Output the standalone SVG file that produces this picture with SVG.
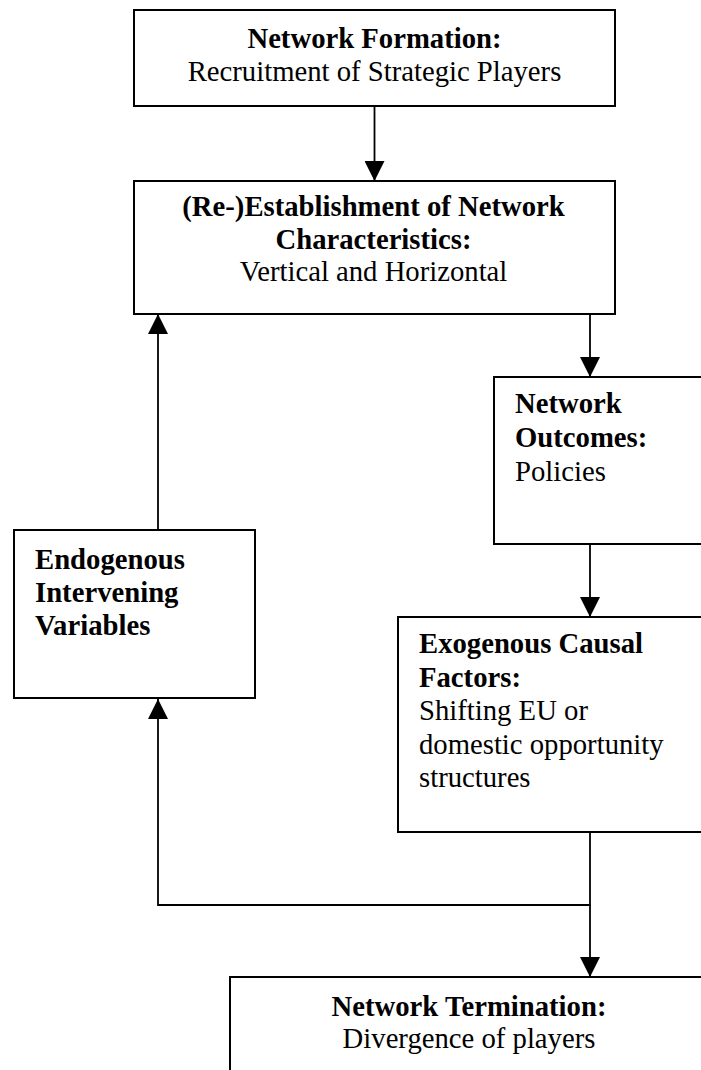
<svg xmlns="http://www.w3.org/2000/svg" width="701" height="1070" viewBox="0 0 701 1070">
<defs>
<marker id="ah" viewBox="0 0 20 20" refX="20" refY="10" markerWidth="20" markerHeight="20" markerUnits="userSpaceOnUse" orient="auto">
<path d="M0,0 L20,10 L0,20 Z" fill="#000"/>
</marker>
<style>
.box{fill:#fff;stroke:#000;stroke-width:2}
.t{font-family:"Liberation Serif","Times New Roman",serif;font-size:28.7px;fill:#000}
.b{font-weight:bold}
.c{text-anchor:middle}
.ln{fill:none;stroke:#000;stroke-width:1.8}
</style>
</defs>
<rect width="701" height="1070" fill="#fff"/>
<g id="connectors">
<line class="ln" x1="374.5" y1="106" x2="374.5" y2="181" marker-end="url(#ah)"/>
<line class="ln" x1="590" y1="314" x2="590" y2="377" marker-end="url(#ah)"/>
<line class="ln" x1="590" y1="544" x2="590" y2="617" marker-end="url(#ah)"/>
<line class="ln" x1="158" y1="530" x2="158" y2="314" marker-end="url(#ah)"/>
<polyline class="ln" points="590,832 590,905 158,905 158,699" marker-end="url(#ah)"/>
<line class="ln" x1="590" y1="905" x2="590" y2="977" marker-end="url(#ah)"/>
</g>
<g id="formation">
<rect class="box" x="134" y="10" width="481" height="96"/>
<text class="t b c" x="374.5" y="47.5">Network Formation:</text>
<text class="t c" x="374.5" y="80.5">Recruitment of Strategic Players</text>
</g>
<g id="establishment">
<rect class="box" x="134" y="181" width="481" height="133"/>
<text class="t b c" x="373.5" y="216">(Re-)Establishment of Network</text>
<text class="t b c" x="373.5" y="248.5">Characteristics:</text>
<text class="t c" x="373.5" y="281">Vertical and Horizontal</text>
</g>
<g id="outcomes">
<rect class="box" x="494" y="377" width="230" height="167"/>
<text class="t b" x="515" y="413">Network</text>
<text class="t b" x="515" y="447">Outcomes:</text>
<text class="t" x="515" y="481">Policies</text>
</g>
<g id="endogenous">
<rect class="box" x="14" y="530" width="241" height="168"/>
<text class="t b" x="35" y="569">Endogenous</text>
<text class="t b" x="35" y="602">Intervening</text>
<text class="t b" x="35" y="635">Variables</text>
</g>
<g id="exogenous">
<rect class="box" x="398" y="617" width="326" height="215"/>
<text class="t b" x="419" y="653">Exogenous Causal</text>
<text class="t b" x="419" y="686.5">Factors:</text>
<text class="t" x="419" y="720">Shifting EU or</text>
<text class="t" x="419" y="753.5">domestic opportunity</text>
<text class="t" x="419" y="787">structures</text>
</g>
<g id="termination">
<rect class="box" x="230" y="977" width="478" height="120"/>
<text class="t b c" x="469" y="1015.5">Network Termination:</text>
<text class="t c" x="469" y="1047.5">Divergence of players</text>
</g>
</svg>
